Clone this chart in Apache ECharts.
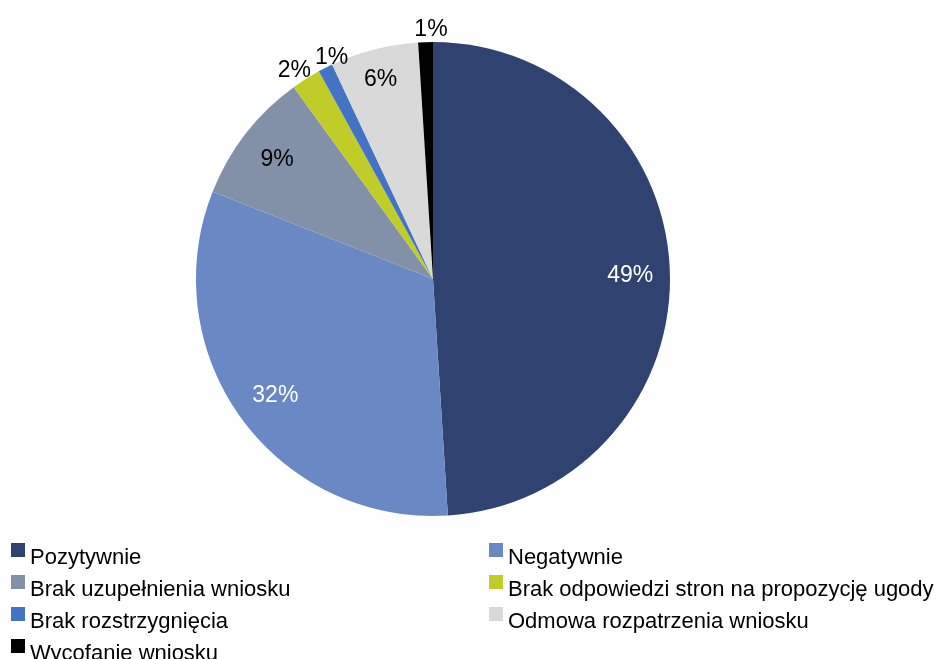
<!DOCTYPE html>
<html>
<head>
<meta charset="utf-8">
<script src="https://cdn.jsdelivr.net/npm/echarts@6/dist/echarts.min.js"></script>
<style>
  html, body { margin: 0; padding: 0; background: #fff; }
  #chart { width: 937px; height: 659px; }
</style>
</head>
<body>
<div id="chart"></div>
<script>
const categories = [
  "Pozytywnie",
  "Negatywnie",
  "Brak uzupełnienia wniosku",
  "Brak odpowiedzi stron na propozycję ugody",
  "Brak rozstrzygnięcia",
  "Odmowa rozpatrzenia wniosku",
  "Wycofanie wniosku"
];
const values = [49, 32, 9, 2, 1, 6, 1];
const colors = ["#30426F", "#6A88C4", "#8290A8", "#C0CC28", "#4472C4", "#D9D9D9", "#000000"];
// distance of each label from the centre, as a share of the radius
const labelDist = [0.82, 0.82, 0.83, 1.047, 1.06, 0.86, 1.063];
const labelWhite = [true, true, false, false, false, false, false];

const font = "Liberation Sans";
const R = 237;
const center = [433, 279];

// small nudges, like Excel does for crowded labels
const nudge = {
  0: { dx: 0, dy: 3 },
  1: { dx: 2, dy: 1 },
  2: { dx: 2, dy: 3 },
  3: { dx: -4, dy: 4 },
  4: { dx: 14, dy: 5 },
  5: { dx: -1, dy: 1 },
  6: { dx: 6, dy: 5 }
};

const pieData = categories.map((name, i) => ({
  name: name,
  value: values[i],
  itemStyle: { color: colors[i] }
}));

// one transparent pie per label, its ring centred on the wanted distance
function labelSeries(k) {
  const half = 0.3;
  const n = nudge[k] || { dx: 0, dy: 0 };
  return {
    type: "pie",
    silent: true,
    center: center,
    radius: [R * (labelDist[k] - half), R * (labelDist[k] + half)],
    startAngle: 90,
    avoidLabelOverlap: false,
    legendHoverLink: false,
    labelLine: { show: false },
    labelLayout: { hideOverlap: false, dx: n.dx, dy: n.dy },
    itemStyle: { color: "rgba(0,0,0,0)" },
    data: categories.map((name, i) => ({
      name: name,
      value: values[i],
      label: {
        show: i === k,
        position: "inside",
        formatter: values[i] + "%",
        color: labelWhite[i] ? "#fff" : "#000",
        fontFamily: font,
        fontSize: 23
      }
    }))
  };
}

const leftNames = categories.filter((_, i) => i % 2 === 0);
const rightNames = categories.filter((_, i) => i % 2 === 1);

// square drawn at the top of a taller box, so the text sits lower than the icon
const legendIcon = "path://M0,0h14v14h-14z M0,30h0.1";

function legendCol(left, names) {
  return {
    orient: "vertical",
    left: left,
    top: 542,
    height: 200,
    padding: 0,
    itemGap: 0,
    itemWidth: 14,
    itemHeight: 30,
    icon: legendIcon,
    selectedMode: false,
    data: names,
    textStyle: {
      fontFamily: font,
      fontSize: 22,
      color: "#000",
      lineHeight: 32
    }
  };
}

const chart = echarts.init(document.getElementById("chart"));
chart.setOption({
  animation: false,
  legend: [legendCol(11, leftNames), legendCol(489, rightNames)],
  series: [
    {
      type: "pie",
      center: center,
      radius: [0, R],
      startAngle: 90,
      label: { show: false },
      labelLine: { show: false },
      itemStyle: { borderWidth: 0 },
      emphasis: { disabled: true },
      data: pieData
    }
  ].concat(categories.map((_, k) => labelSeries(k)))
});
</script>
</body>
</html>
